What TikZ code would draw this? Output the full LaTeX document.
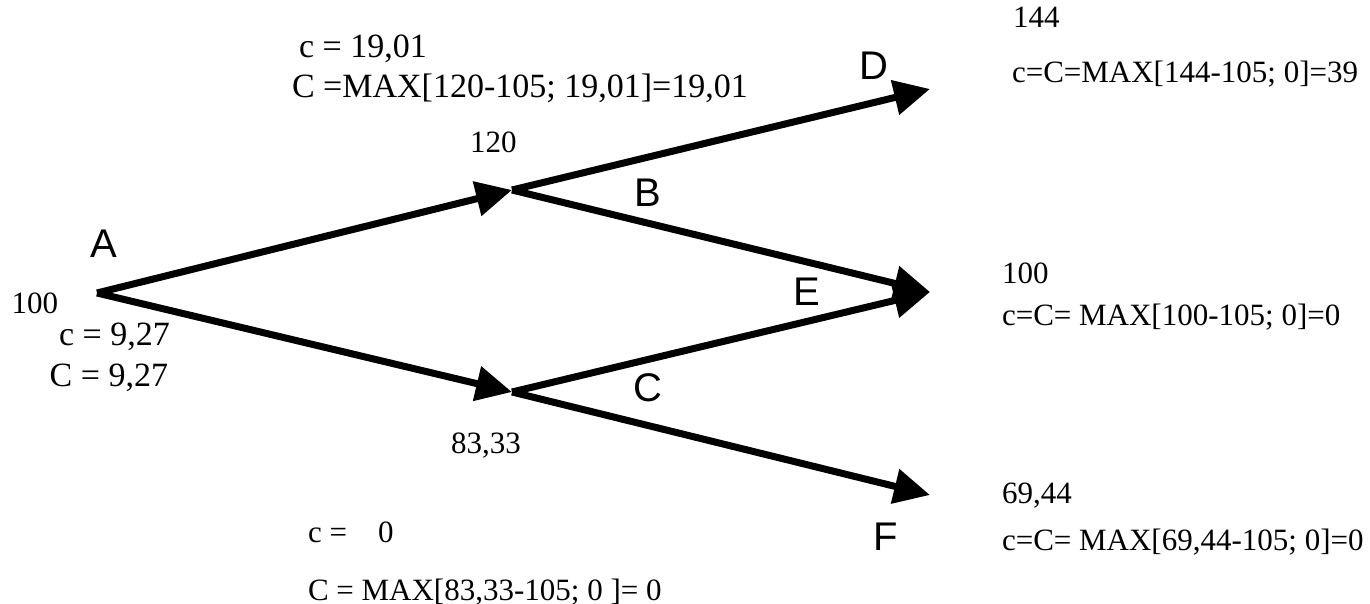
\documentclass[tikz,border=0pt]{standalone}
\usepackage{fontspec}
\setmainfont{Liberation Serif}
\setsansfont{Liberation Sans}
\usetikzlibrary{arrows.meta}

\begin{document}
\begin{tikzpicture}[->, >={Triangle[length=36pt,width=34pt]}, line width=7pt, x=1pt, y=-1pt]
        \tikzstyle{every node}=[inner sep=0pt, outer sep=0pt]
        \tikzstyle{val}=[font=\fontsize{31}{36}\selectfont, anchor=base west]
        \tikzstyle{bigval}=[font=\fontsize{34}{40}\selectfont, anchor=base west]
        \tikzstyle{letter}=[font=\sffamily\fontsize{40}{46}\selectfont, anchor=base]

        \path[use as bounding box, -] (0,0) rectangle (1370,604);

        \coordinate (A) at (97,293);
        \coordinate (B) at (512,190);
        \coordinate (C) at (512,392);
        \coordinate (D) at (930,89);
        \coordinate (E) at (930,292);
        \coordinate (F) at (930,495);

        \path
            (A) edge (B)
            (A) edge (C)
            (B) edge (D)
            (B) edge (E)
            (C) edge (E)
            (C) edge (F)
        ;

        \node[letter]   (lA) at (104,257)  {A};
        \node[letter]   (lB) at (648,207)  {B};
        \node[letter]   (lC) at (648,401)  {C};
        \node[letter]   (lD) at (874,80)   {D};
        \node[letter]   (lE) at (807,305)  {E};
        \node[letter]   (lF) at (886,550)  {F};

        \node[val, anchor=base]         (sA)  at (35,313)   {100};
        \node[bigval]                   (cA)  at (59,345)   {c = 9,27};
        \node[bigval, anchor=base east] (CA)  at (168,386)  {C = 9,27};

        \node[val]      (sB)  at (470,153)  {120};
        \node[bigval]   (cB)  at (299,58)   {c = 19,01};
        \node[bigval]   (CB)  at (292,98)   {C =MAX[120-105; 19,01]=19,01};

        \node[val, anchor=base] (sC) at (486,453) {83,33};
        \node[val]      (cC)  at (308,542)  {c =\ \ \ \ 0};
        \node[val]      (CC)  at (308,600)  {C = MAX[83,33-105; 0 ]= 0};

        \node[val]      (sD)  at (1013,28)  {144};
        \node[val]      (CD)  at (1012,83)  {c=C=MAX[144-105; 0]=39};
        \node[val]      (sE)  at (1002,283) {100};
        \node[val]      (CE)  at (1002,325) {c=C= MAX[100-105; 0]=0};
        \node[val]      (sF)  at (1002,503) {69,44};
        \node[val]      (CF)  at (1002,550) {c=C= MAX[69,44-105; 0]=0};
    \end{tikzpicture}
\end{document}
